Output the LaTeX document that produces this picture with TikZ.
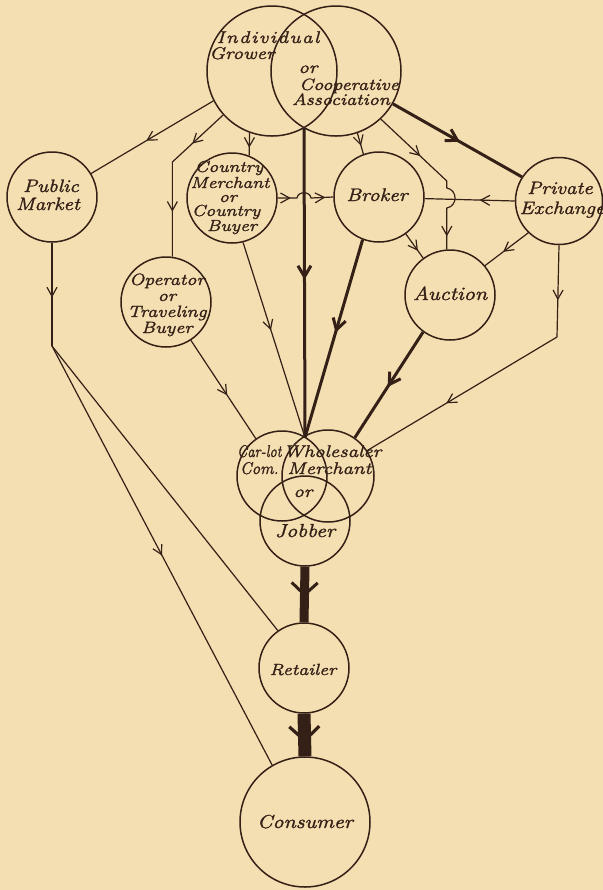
\documentclass[tikz,border=0pt]{standalone}
\usepackage{fontspec}
\setmainfont{Latin Modern Roman}[FakeStretch=1.12,FakeBold=1.2]
\usetikzlibrary{arrows.meta,decorations.markings}
\definecolor{bg}{RGB}{243,223,178}
\definecolor{ink}{RGB}{52,32,22}
\begin{document}
\begin{tikzpicture}[x=0.5pt,y=-0.5pt,line join=round,
  circ/.style={circle,draw=ink,line width=0.75pt,minimum size=#1,inner sep=0pt},
  lbl/.style={text=ink,font=\fontsize{#1}{#1}\selectfont\itshape,anchor=base,inner sep=0pt},
  lbl/.default=9,
  thinline/.style={color=ink,line width=0.6pt},
  thickline/.style={color=ink,line width=1.5pt},
  ar/.style={postaction={decorate,decoration={markings,mark=at position #1 with {\arrow{Straight Barb[length=4.5pt,width=5pt]}}}}},
  tar/.style={postaction={decorate,decoration={markings,mark=at position #1 with {\arrow{Straight Barb[length=5.5pt,width=6.5pt]}}}}},
  far/.style={postaction={decorate,decoration={markings,mark=at position #1 with {\arrow{Straight Barb[length=6pt,width=13pt,line width=1.5pt]}}}}},
  gar/.style={postaction={decorate,decoration={markings,mark=at position #1 with {\arrow{Straight Barb[length=7pt,width=15pt,line width=1.6pt]}}}}}
]
\fill[bg] (0,0) rectangle (603,890);
\useasboundingbox (0,0) rectangle (603,890);

% circles
\node[circ=65pt] (grower) at (272,71) {};
\node[circ=65pt] (coop) at (336,71) {};
\node[circ=45pt] (pubm) at (52,197) {};
\node[circ=45pt] (cmer) at (232,198) {};
\node[circ=45pt] (broker) at (379,197) {};
\node[circ=43.5pt] (pex) at (559,201) {};
\node[circ=45pt] (auction) at (450,295) {};
\node[circ=45pt] (oper) at (166,302) {};
\node[circ=45pt] (wl) at (282,476) {};
\node[circ=46pt] (wr) at (328,476) {};
\node[circ=45pt] (wj) at (305,521) {};
\node[circ=45pt] (retail) at (304,668) {};
\node[circ=65pt] (cons) at (305,822) {};

% helper coordinates
\coordinate (topx) at (304,128);
\coordinate (whx) at (305,437.5);
\coordinate (opbend) at (oper.82 |- 0,162);
\coordinate (pmbend) at (pubm.south |- 0,346);
\coordinate (pebend) at (557,337);
\coordinate (cjbend) at (auction.94 |- 0,181);

% connectors
\draw[thinline,ar=0.55] (grower.207) -- (pubm.31);
\draw[thinline,ar=21pt,ar=-22.5pt] (grower.222) -- (opbend) -- (oper.82);
\draw[thinline,ar=0.65] (grower.250) -- (cmer.68);
\draw[thickline,tar=0.49] (topx) -- (whx);
\draw[thinline,ar=0.6] (coop.289) -- (broker.110);
\draw[thinline,ar=27pt,ar=-6.5pt] (coop.313) -- (cjbend) -- ++(0,7)
   .. controls +(11,2) and +(11,-2) .. ++(0,20) -- (auction.94);
\draw[thickline,tar=0.52] (coop.330) -- (pex.147);
\draw[thinline,ar=6.5pt,ar=-4pt] (cmer.0) -- (297,198)
   .. controls (298,191) and (310,191) .. (311,198) -- (broker.180);
\draw[thinline,ar=0.39] (pex.180) -- (broker.-2);
\draw[thinline,ar=0.7] (broker.306) -- (auction.126);
\draw[thinline,ar=0.58] (pex.226) -- (auction.40);
\draw[thinline,ar=27.5pt,ar=-46pt] (pex.-90) -- (pebend) -- (wr.33);
\draw[thinline,ar=0.45] (cmer.284) -- (whx);
\draw[thickline,tar=0.47] (broker.249) -- (whx);
\draw[thickline,tar=0.52] (auction.234) -- (wr.55);
\draw[thinline,ar=0.56] (oper.303) -- (wl.125);
\draw[thinline,ar=0.53] (pubm.south) -- (pmbend);
\draw[thinline] (pmbend) -- (retail.125);
\draw[thinline,ar=0.5] (pmbend) -- (cons.120);
\draw[color=ink,line width=4.5pt,far=0.54] (wj.south) -- (retail.north);
\draw[color=ink,line width=6.5pt,gar=0.68] (retail.south) -- (cons.north);

% labels
\node[lbl=8.5] (t1) at (268,43) {\addfontfeature{LetterSpace=9}Individual};
\node[lbl=8.5] (t2) at (242,59) {Grower};
\node[lbl=8.5] (t3) at (308,73) {or};
\node[lbl=8.2] (t4) at (349,90) {Cooperative};
\node[lbl=8.2] (t5) at (341,105) {Association};

\node[lbl=9] (t6) at (51,192) {Public};
\node[lbl=9] (t7) at (48,210) {Market};

\node[lbl=8] (t8) at (229,172) {Country};
\node[lbl=8] (t9) at (230,188) {Merchant};
\node[lbl=8] (t10) at (228,202) {or};
\node[lbl=8] (t11) at (226,216) {Country};
\node[lbl=8] (t12) at (232,231) {Buyer};

\node[lbl=9.1] (t13) at (377,201) {Broker};
\node[lbl=9] (t14) at (560,194) {Private};
\node[lbl=9] (t15) at (562,214) {Exchange};
\node[lbl=9.5] (t16) at (450,300) {Auction};

\node[lbl=8.2] (t17) at (167,285) {Operator};
\node[lbl=8.2] (t18) at (167,301) {or};
\node[lbl=8.2] (t19) at (167,317) {Traveling};
\node[lbl=8.2] (t20) at (167,333) {Buyer};

\node[lbl=8.5,anchor=base east] (t21) at (282,457) {\scalebox{0.7}[1]{Car-lot}};
\node[lbl=8.5,anchor=base west] (t22) at (283,457) {Wholesaler};
\node[lbl=8.5,anchor=base east] (t23) at (279,474) {\scalebox{0.8}[1]{Com.}};
\node[lbl=8.5,anchor=base west] (t24) at (287,474) {Merchant};
\node[lbl=8.5] (t25) at (303,497) {or};
\node[lbl=9.4] (t26) at (305,537) {Jobber};

\node[lbl=8.1] (t27) at (303,675) {Retailer};
\node[lbl=9.4] (t28) at (305,828) {Consumer};
\end{tikzpicture}
\end{document}
